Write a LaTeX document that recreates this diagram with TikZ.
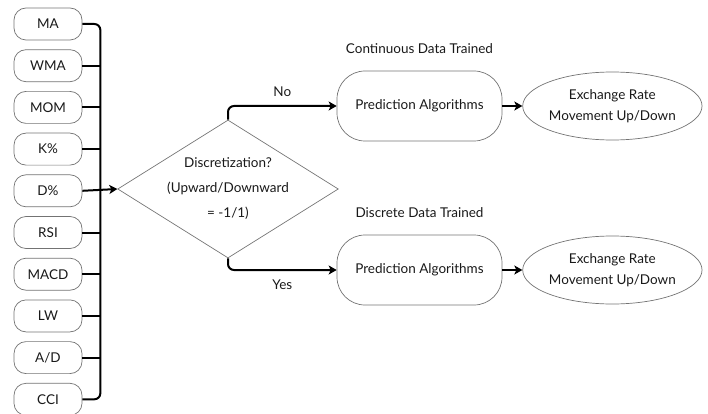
\documentclass[tikz,border=0pt]{standalone}
\usepackage{fontspec}
\setmainfont{Lato}
\usetikzlibrary{arrows.meta,positioning,shapes.geometric,calc}

\begin{document}
\begin{tikzpicture}[
  x=1pt, y=-1pt,
  font=\fontsize{13.5}{15}\selectfont,
  text=black!90,
  node distance=9pt,
  indicator/.style={
    draw=black!55,
    rounded corners=12pt,
    line width=0.7pt,
    minimum width=68pt,
    minimum height=32pt,
    inner sep=0pt
  },
  decision/.style={
    draw=black!55, diamond, aspect=1.6,
    line width=0.7pt,
    minimum width=220pt, minimum height=138pt,
    inner sep=0pt, align=center
  },
  model/.style={
    draw=black!55,
    rounded corners=28pt,
    line width=0.7pt,
    minimum width=165pt,
    minimum height=70pt
  },
  outcome/.style={
    draw=black!55, ellipse,
    line width=0.7pt,
    minimum width=170pt, minimum height=68pt,
    inner sep=0pt, align=center
  },
  caption/.style={inner sep=0pt},
  line/.style={line width=2pt, draw=black},
  arrow/.style={line, -{Stealth[length=8pt, width=9pt, inset=2pt]}}
]
\useasboundingbox (0,0) rectangle (708,414);

% technical indicators
\node[indicator] (ma) at (48,24) {MA};
\node[indicator, below=of ma] (wma) {WMA};
\node[indicator, below=of wma] (mom) {MOM};
\node[indicator, below=of mom] (k) {K\%};
\node[indicator, below=of k] (d) {D\%};
\node[indicator, below=of d] (rsi) {RSI};
\node[indicator, below=of rsi] (macd) {MACD};
\node[indicator, below=of macd] (lw) {LW};
\node[indicator, below=of lw] (ad) {A/D};
\node[indicator, below=of ad] (cci) {CCI};

\node[decision] (disc) at (228,189)
  {Discretization?\\[10pt](Upward/Downward\\[10pt]= -1/1)};

\node[model] (predc) at (419.5,106) {Prediction Algorithms};
\node[model] (predd) at (419.5,270) {Prediction Algorithms};
\node[outcome, right=20pt of predc] (movec) {Exchange Rate\\[6pt]Movement Up/Down};
\node[outcome, right=20pt of predd] (moved) {Exchange Rate\\[6pt]Movement Up/Down};

\node[caption, above=17pt of predc] (contlbl) {Continuous Data Trained};
\node[caption, above=17pt of predd] (disclbl) {Discrete Data Trained};

% collecting bus
\coordinate (busx) at ($(ma.east)+(18pt,0)$);
\draw[line, rounded corners=6pt] (ma.east) -| (busx |- cci.east) -- (cci.east);
\draw[line] (wma.east) -- (wma.east -| busx);
\draw[line] (mom.east) -- (mom.east -| busx);
\draw[line] (k.east) -- (k.east -| busx);
\draw[line] (rsi.east) -- (rsi.east -| busx);
\draw[line] (macd.east) -- (macd.east -| busx);
\draw[line] (lw.east) -- (lw.east -| busx);
\draw[line] (ad.east) -- (ad.east -| busx);
\draw[arrow] (d.east) -- (disc.west);

\draw[arrow, rounded corners=6pt] (disc.north) |- (predc.west)
  node[pos=0.75, above=5pt] (no) {No};
\draw[arrow, rounded corners=6pt] (disc.south) |- (predd.west)
  node[pos=0.75, below=5pt] (yes) {Yes};

\draw[arrow] (predc) -- (movec);
\draw[arrow] (predd) -- (moved);

\end{tikzpicture}
\end{document}
